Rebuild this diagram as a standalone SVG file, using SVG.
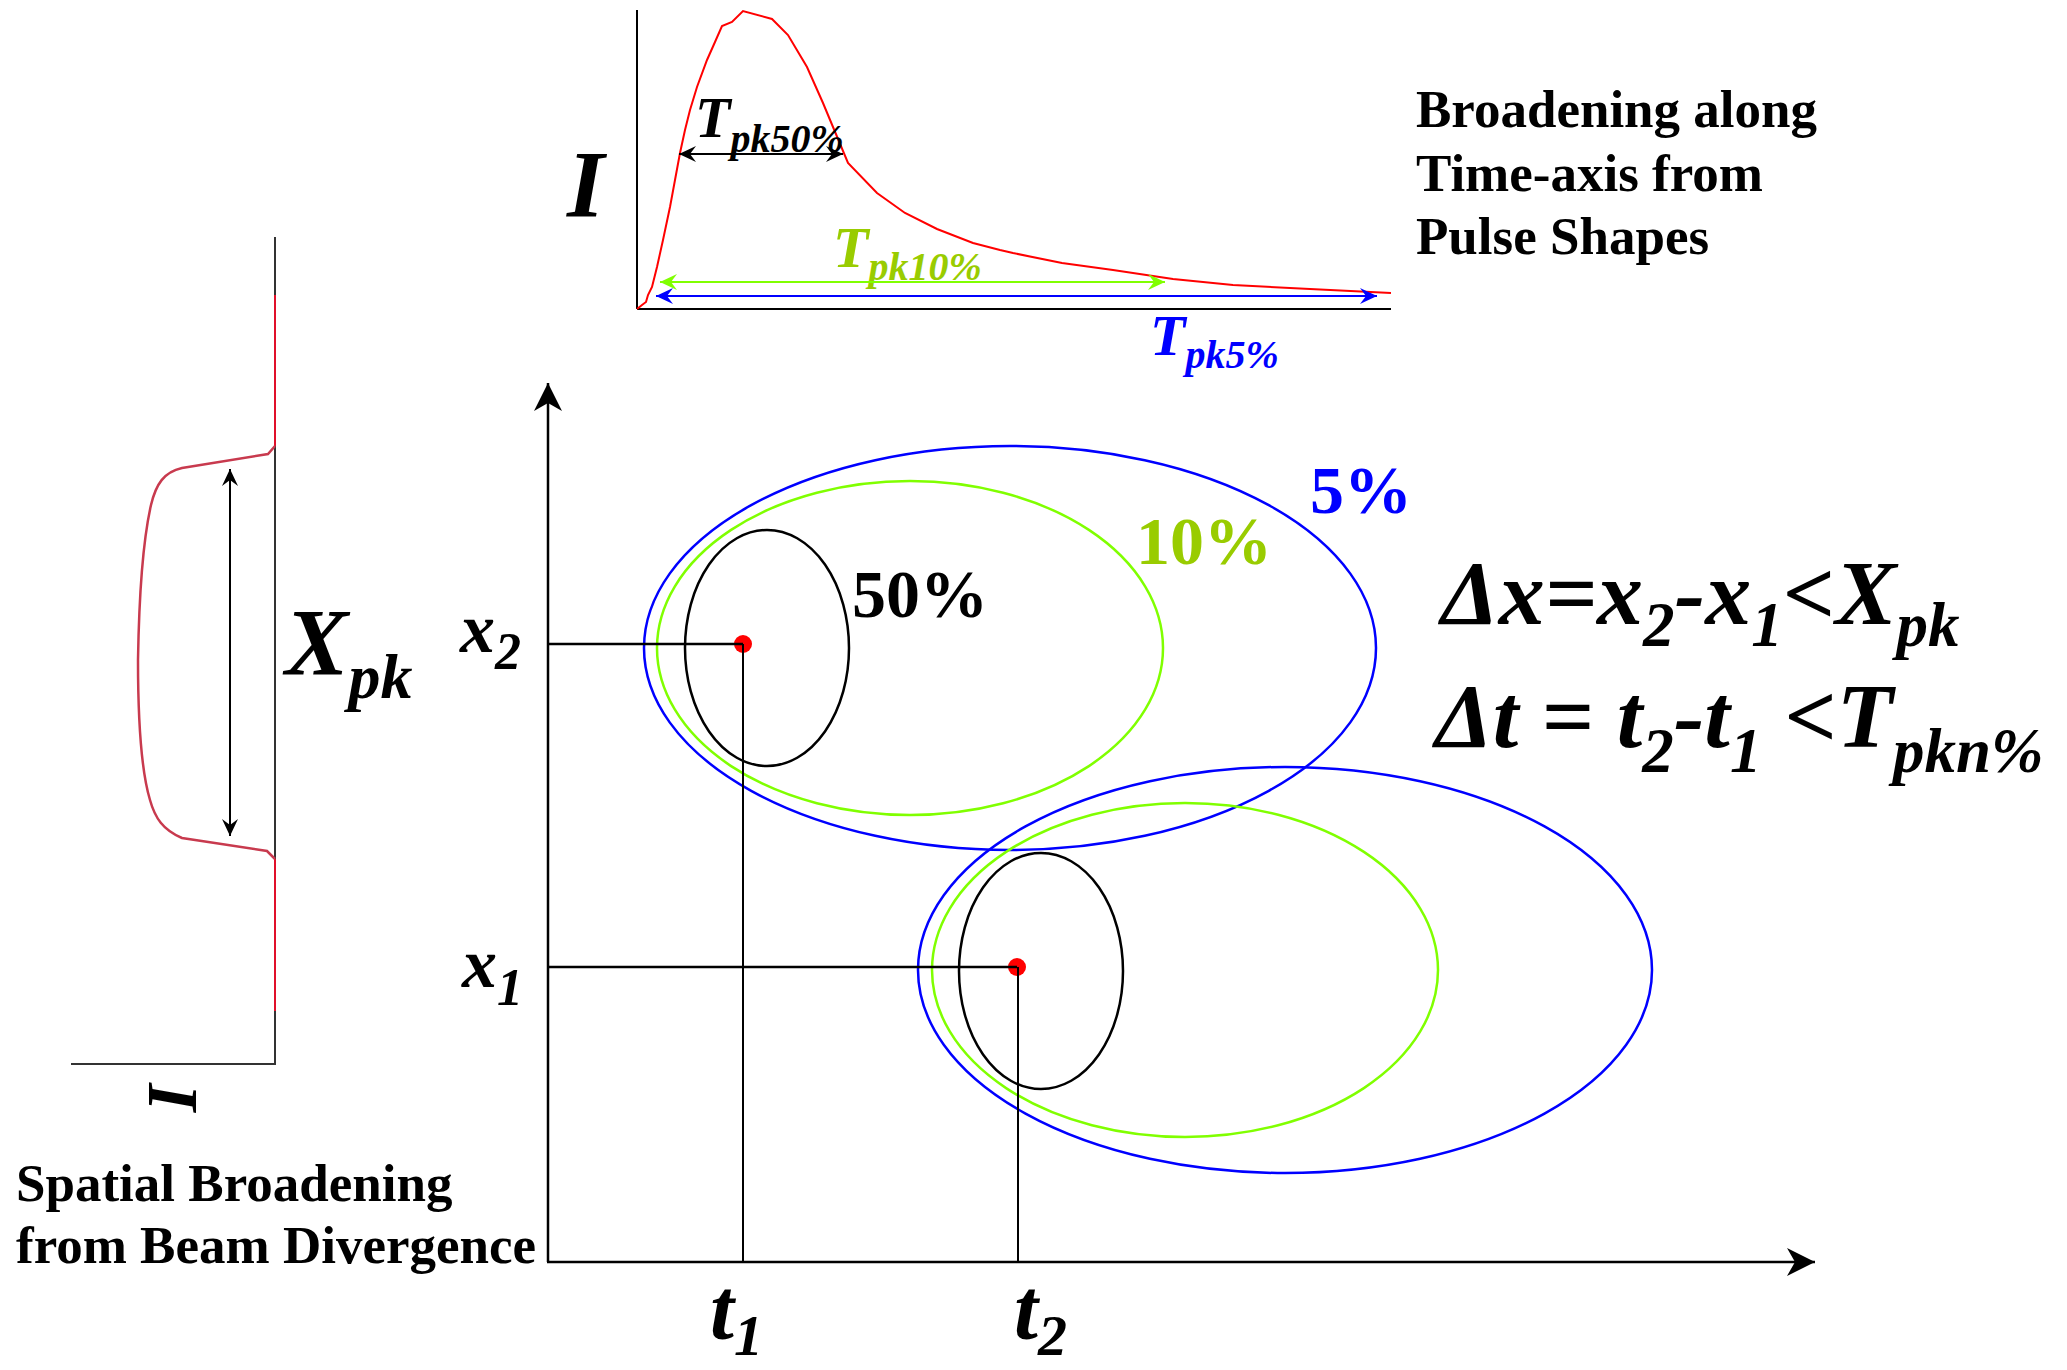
<svg xmlns="http://www.w3.org/2000/svg" width="2067" height="1370" viewBox="0 0 2067 1370">
<defs>
<style>
.t{font-family:"Liberation Serif","Times New Roman",serif;font-weight:bold}
.i{font-style:italic}
.ln{stroke:#000;stroke-width:2;fill:none}
.ax{stroke:#000;stroke-width:2.5;fill:none}
.blue{stroke:#0000ff;stroke-width:2.5;fill:none}
.lime{stroke:#80ff00;stroke-width:2.5;fill:none}
.blk{stroke:#000;stroke-width:2.5;fill:none}
.dot{fill:#ff0000}
</style>
<marker id="hk" markerUnits="userSpaceOnUse" viewBox="-18 -9 19 18" markerWidth="19" markerHeight="18" refX="0" refY="0" orient="auto-start-reverse"><path d="M0,0 L-17,-8 L-11,0 L-17,8 Z" fill="#000"/></marker>
<marker id="hg" markerUnits="userSpaceOnUse" viewBox="-18 -9 19 18" markerWidth="19" markerHeight="18" refX="0" refY="0" orient="auto-start-reverse"><path d="M0,0 L-17,-8 L-11,0 L-17,8 Z" fill="#80ff00"/></marker>
<marker id="hb" markerUnits="userSpaceOnUse" viewBox="-18 -9 19 18" markerWidth="19" markerHeight="18" refX="0" refY="0" orient="auto-start-reverse"><path d="M0,0 L-17,-8 L-11,0 L-17,8 Z" fill="#0000ff"/></marker>
<marker id="ha" markerUnits="userSpaceOnUse" viewBox="-29 -15 30 30" markerWidth="30" markerHeight="30" refX="0" refY="0" orient="auto"><path d="M0,0 L-28,-14 L-20,0 L-28,14 Z" fill="#000"/></marker>
</defs>
<rect width="2067" height="1370" fill="#fff"/>

<g id="pulse-plot">
<line class="ln" x1="637" y1="10" x2="637" y2="309"/>
<line class="ln" x1="637" y1="309" x2="1391" y2="309"/>
<polyline fill="none" stroke="#ff0000" stroke-width="2" points="637,309 642,305 646,302 648,295 652,287 657,267 663,240 670,207 675,180 680,153 685,130 690,110 697,87 707,60 715,42 722,26 732,22 743,11 772,19 788,35 807,67 823,103 833,127 848,163 877,193 905,213 937,229 973,243 1000,250 1013,253 1062,263 1113,270 1173,279 1233,285 1310,289 1391,293"/>
<text class="t i" x="567" y="217" font-size="96">I</text>
<text class="t i" x="695" y="137" font-size="58">T<tspan font-size="40" dy="15">pk50%</tspan></text>
<text class="t i" x="833" y="267" font-size="58" fill="#99cc00">T<tspan font-size="40" dy="13">pk10%</tspan></text>
<text class="t i" x="1150" y="355" font-size="58" fill="#0000ff">T<tspan font-size="40" dy="13">pk5%</tspan></text>
</g>

<g id="pulse-caption">
<text class="t" font-size="53" x="1416" y="127">Broadening along</text>
<text class="t" font-size="53" x="1416" y="191">Time-axis from</text>
<text class="t" font-size="53" x="1416" y="254">Pulse Shapes</text>
</g>

<g id="spatial-profile">
<line stroke="#333" stroke-width="2" x1="275" y1="237" x2="275" y2="1064"/>
<line stroke="#333" stroke-width="2" x1="71" y1="1064" x2="276" y2="1064"/>
<line stroke="#e0102a" stroke-width="2" x1="275" y1="295" x2="275" y2="446"/>
<line stroke="#e0102a" stroke-width="2" x1="275" y1="859" x2="275" y2="1011"/>
<path fill="none" stroke="#c83a4e" stroke-width="2.5" d="M275,446 L268,454 L182,468 C164,472 156,484 151,505 C143,540 139,600 138,660 C138,720 141,770 150,800 C155,818 163,830 182,838 L267,851 L275,859"/>
<text class="t i" x="285" y="675" font-size="95">X<tspan font-size="64" dy="23">pk</tspan></text>
<text class="t i" font-size="72" transform="translate(173,1097) rotate(90)" text-anchor="middle" dominant-baseline="central">I</text>
</g>

<g id="spatial-caption">
<text class="t" font-size="53" x="16" y="1201">Spatial Broadening</text>
<text class="t" font-size="53" x="16" y="1263">from Beam Divergence</text>
</g>

<g id="main-axes">
<text class="t i" x="460" y="652" font-size="70">x<tspan font-size="52" dy="17">2</tspan></text>
<text class="t i" x="462" y="987" font-size="70">x<tspan font-size="52" dy="18">1</tspan></text>
<text class="t i" x="710" y="1339" font-size="86">t<tspan font-size="58" dy="16">1</tspan></text>
<text class="t i" x="1014" y="1339" font-size="86">t<tspan font-size="58" dy="16">2</tspan></text>
</g>

<g id="event-1">
<ellipse class="blue" cx="1010" cy="648" rx="366" ry="202"/>
<ellipse class="lime" cx="910" cy="648" rx="253" ry="167"/>
<ellipse class="blk" cx="767" cy="648" rx="82" ry="118"/>
<circle class="dot" cx="743" cy="644" r="9"/>
</g>

<g id="event-2">
<ellipse class="blue" cx="1285" cy="970" rx="367" ry="203"/>
<ellipse class="lime" cx="1185" cy="970" rx="253" ry="167"/>
<ellipse class="blk" cx="1041" cy="971" rx="82" ry="118"/>
<circle class="dot" cx="1017" cy="967" r="9"/>
</g>

<g id="contour-labels">
<text class="t" x="852" y="617" font-size="68">50%</text>
<text class="t" x="1136" y="564" font-size="68" fill="#99cc00">10%</text>
<text class="t" x="1310" y="513" font-size="68" fill="#0000ff">5%</text>
</g>

<g id="formula">
<text class="t i" x="1441" y="624" font-size="92">Δx=x<tspan font-size="63" dy="22">2</tspan><tspan dy="-22">-x</tspan><tspan font-size="63" dy="22">1</tspan><tspan dy="-22">&lt;X</tspan><tspan font-size="63" dy="22">pk</tspan></text>
<text class="t i" x="1435" y="747" font-size="92">Δt = t<tspan font-size="63" dy="25">2</tspan><tspan dy="-25">-t</tspan><tspan font-size="63" dy="25">1</tspan><tspan dy="-25"> &lt;T</tspan><tspan font-size="63" dy="25">pkn%</tspan></text>
</g>

<g id="connectors">
<line class="ln" x1="679" y1="154" x2="843" y2="154" marker-start="url(#hk)" marker-end="url(#hk)"/>
<line stroke="#80ff00" stroke-width="2" x1="660" y1="282" x2="1165" y2="282" marker-start="url(#hg)" marker-end="url(#hg)"/>
<line stroke="#0000ff" stroke-width="2" x1="656" y1="296" x2="1377" y2="296" marker-start="url(#hb)" marker-end="url(#hb)"/>
<line class="ln" x1="230" y1="469" x2="230" y2="836" marker-start="url(#hk)" marker-end="url(#hk)"/>
<line class="ax" x1="548" y1="1262" x2="548" y2="383" marker-end="url(#ha)"/>
<line class="ax" x1="547" y1="1262" x2="1815" y2="1262" marker-end="url(#ha)"/>
<line class="ax" x1="548" y1="644" x2="743" y2="644"/>
<line class="ln" x1="743" y1="644" x2="743" y2="1262"/>
<line class="ax" x1="548" y1="967" x2="1017" y2="967"/>
<line class="ln" x1="1018" y1="967" x2="1018" y2="1262"/>
</g>
</svg>
